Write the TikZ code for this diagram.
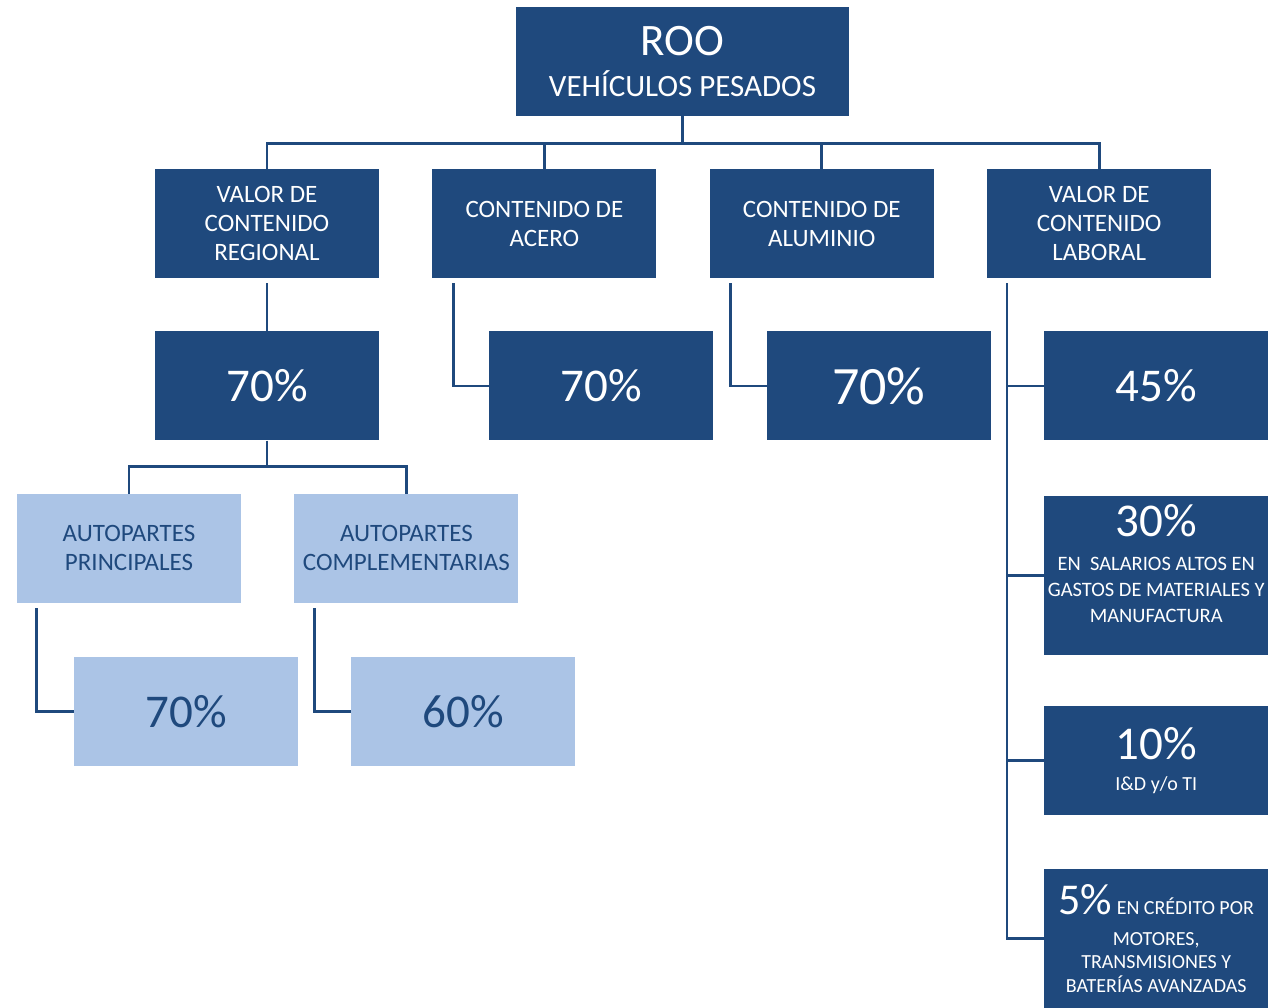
\documentclass[tikz,border=0pt]{standalone}
\usepackage{fontspec}
\setmainfont{Carlito}
\usepackage{xcolor}
\usetikzlibrary{positioning, calc}
\definecolor{roodark}{HTML}{1F497D}
\definecolor{roolight}{HTML}{ABC4E6}

\begin{document}
\begin{tikzpicture}[x=1pt, y=1pt,
    darkbox/.style={rectangle, fill=roodark, text=white, minimum width=224pt, minimum height=109pt, inner sep=0pt, align=center},
    lightbox/.style={rectangle, fill=roolight, text=roodark, minimum width=224pt, minimum height=109pt, inner sep=0pt, align=center},
    link/.style={draw=roodark, line width=2.8pt},
    head/.style={font=\fontsize{25}{29}\selectfont},
    pct/.style={font=\fontsize{47}{56}\selectfont}]
    \fill[white] (0,0) rectangle (1268,-1008);
    \useasboundingbox (0,0) rectangle (1268,-1008);

    \node[darkbox, minimum width=333pt] (roo) at (682.5,-61.5) {\fontsize{45}{50}\selectfont ROO\\[14pt]\fontsize{31}{40}\selectfont VEHÍCULOS PESADOS};

    % second level
    \node[darkbox, head] (regional) at (267,-223.5) {VALOR DE\\CONTENIDO\\REGIONAL};
    \node[darkbox, head, right=53pt of regional] (acero) {CONTENIDO DE\\ACERO};
    \node[darkbox, head, right=53pt of acero] (aluminio) {CONTENIDO DE\\ALUMINIO};
    \node[darkbox, head, right=53pt of aluminio] (laboral) {VALOR DE\\CONTENIDO\\LABORAL};

    % percentages
    \node[darkbox, pct, below=53pt of regional] (reg70) {70\%};
    \node[darkbox, pct, below=53pt of acero, xshift=57pt] (acero70) {70\%};
    \node[darkbox, font=\fontsize{54}{60}\selectfont, below=53pt of aluminio, xshift=57pt] (aluminio70) {70\%};
    \node[darkbox, pct, below=53pt of laboral, xshift=57pt] (lab45) {45\%};
    \node[darkbox, minimum height=159pt, text depth=23pt, font=\fontsize{20.5}{26}\selectfont, below=55pt of lab45] (lab30) {{\fontsize{47}{26}\selectfont 30\%}\\[8pt]EN~ SALARIOS ALTOS EN\\GASTOS DE MATERIALES Y\\MANUFACTURA};
    \node[darkbox, font=\fontsize{20}{26}\selectfont, below=51pt of lab30] (lab10) {{\fontsize{47}{26}\selectfont 10\%}\\[5pt]I\&D y/o TI};
    \node[darkbox, minimum height=140pt, font=\fontsize{20}{23.5}\selectfont, below=53pt of lab10] (lab5) {{\fontsize{44}{23.5}\selectfont 5\%} EN CRÉDITO POR\\[7pt]MOTORES,\\TRANSMISIONES Y\\BATERÍAS AVANZADAS};

    % autopartes
    \node[lightbox, head, below=53pt of reg70, xshift=-138pt] (principales) {AUTOPARTES\\PRINCIPALES};
    \node[lightbox, head, right=53pt of principales] (complementarias) {AUTOPARTES\\COMPLEMENTARIAS};
    \node[lightbox, pct, below=54pt of principales, xshift=57pt] (prin70) {70\%};
    \node[lightbox, pct, below=54pt of complementarias, xshift=57pt] (comp70) {60\%};

    % connectors
    \draw[link] (roo.south) -- ++(0,-27) coordinate (bus1);
    \draw[link] (regional.north) |- (bus1) -| (laboral.north);
    \draw[link] (acero.north) -- (acero.north |- bus1);
    \draw[link] (aluminio.north) -- (aluminio.north |- bus1);
    \draw[link] ([yshift=-5pt]regional.south) -- (reg70.north);
    \draw[link] ([xshift=21pt,yshift=-5pt]acero.south west) |- (acero70.west);
    \draw[link] ([xshift=21pt,yshift=-5pt]aluminio.south west) |- (aluminio70.west);
    \draw[link] ([xshift=20pt,yshift=-5pt]laboral.south west) coordinate (spine) |- (lab5.west);
    \foreach \n in {lab45, lab30, lab10}
        \draw[link] (\n.west) -- (\n.west -| spine);
    \draw[link] (reg70.south) -- ++(0,-26) coordinate (bus2);
    \draw[link] (principales.north) |- (bus2) -| (complementarias.north);
    \draw[link] ([xshift=20pt,yshift=-5pt]principales.south west) |- (prin70.west);
    \draw[link] ([xshift=20pt,yshift=-5pt]complementarias.south west) |- (comp70.west);
\end{tikzpicture}
\end{document}
